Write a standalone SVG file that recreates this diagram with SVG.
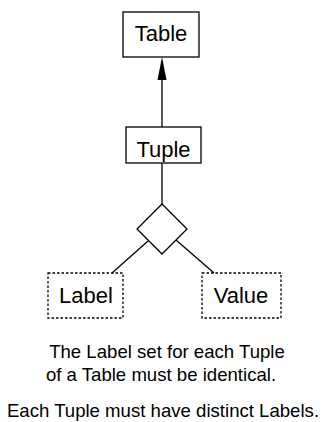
<svg xmlns="http://www.w3.org/2000/svg" width="327" height="422" viewBox="0 0 327 422">
  <style>
    .box { fill: #fff; stroke: #000; stroke-width: 1.3; }
    .dotted { fill: #fff; stroke: #000; stroke-width: 1.3; stroke-dasharray: 2.5 2; }
    .edge { fill: none; stroke: #000; stroke-width: 1.3; }
    .head { fill: #000; stroke: none; }
    .lbl { font-family: "Liberation Sans", Arial, sans-serif; font-size: 22px; text-anchor: middle; fill: #000; }
    .note { font-family: "Liberation Sans", Arial, sans-serif; font-size: 18.6px; text-anchor: middle; fill: #000; }
  </style>
  <rect width="327" height="422" fill="#fff"/>

  <g id="connectors">
    <line class="edge" x1="162" y1="127" x2="162" y2="70"/>
    <polygon class="head" points="162,57 166.5,80 157.5,80"/>
    <line class="edge" x1="162" y1="163" x2="162" y2="204"/>
    <line class="edge" x1="148" y1="241" x2="112" y2="273"/>
    <line class="edge" x1="176" y1="240" x2="214" y2="273"/>
  </g>

  <g id="table">
    <rect class="box" x="123" y="12" width="76" height="45"/>
    <text class="lbl" x="161" y="41">Table</text>
  </g>

  <g id="tuple">
    <rect class="box" x="126" y="127" width="75" height="36"/>
    <text class="lbl" x="163.5" y="157">Tuple</text>
  </g>

  <g id="relation">
    <polygon class="box" points="162,204 187,229 162,254 137,229"/>
  </g>

  <g id="label">
    <rect class="dotted" x="48" y="273" width="75" height="45"/>
    <text class="lbl" x="86" y="303">Label</text>
  </g>

  <g id="value">
    <rect class="dotted" x="202" y="273" width="79" height="45"/>
    <text class="lbl" x="241" y="303">Value</text>
  </g>

  <g id="notes">
    <text class="note" x="167" y="358">The Label set for each Tuple</text>
    <text class="note" x="161" y="381">of a Table must be identical.</text>
    <text class="note" x="163" y="417">Each Tuple must have distinct Labels.</text>
  </g>
</svg>
